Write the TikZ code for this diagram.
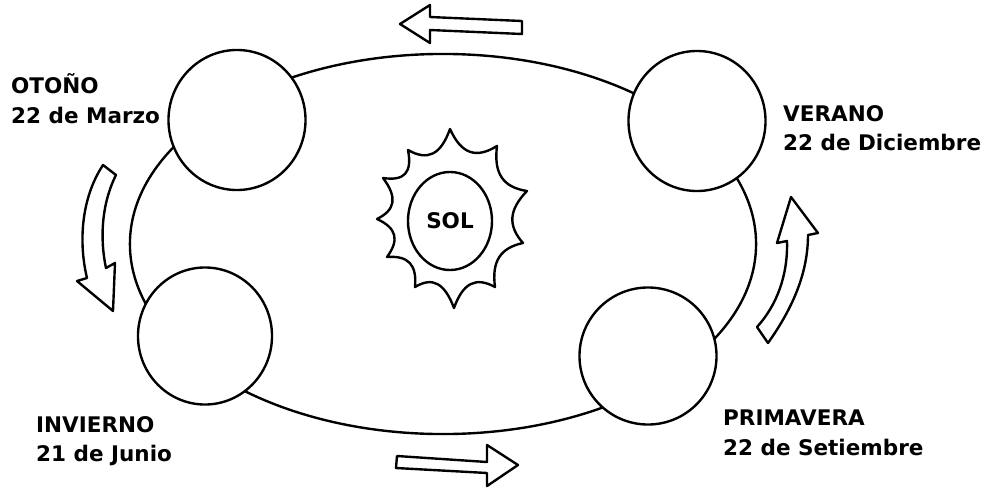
\documentclass[tikz,border=0pt]{standalone}
\usepackage{fontspec}
\setmainfont{DejaVu Sans}
\usetikzlibrary{shapes.geometric,calc}
\begin{document}
\begin{tikzpicture}[x=0.025cm,y=-0.025cm, line width=1.7pt, line join=round,
  lbl/.style={font=\bfseries\fontsize{15.3}{18}\selectfont, anchor=base west, inner sep=0pt},
  planet/.style={ellipse, draw, fill=white, inner sep=0pt},
  blockarrow/.style={draw, fill=white}]
\useasboundingbox[fill=white] (0,0) rectangle (982,488);
% orbit
\node[ellipse, draw, minimum width=15.65cm, minimum height=9.5cm, inner sep=0pt] (orbit) at (443,244) {};
% planets
\node[planet, minimum width=3.425cm, minimum height=3.5cm] (pOto) at (237,120) {};
\node[planet, minimum width=3.425cm, minimum height=3.5cm] (pVer) at (697,121) {};
\node[planet, minimum width=3.35cm, minimum height=3.425cm] (pInv) at (205,336) {};
\node[planet, minimum width=3.425cm, minimum height=3.425cm] (pPri) at (648,356) {};
% sun
\coordinate (sc) at (452,220);
\coordinate (s1) at (450,129);
\coordinate (s2) at (497,146);
\coordinate (s3) at (527,191);
\coordinate (s4) at (523,243);
\coordinate (s5) at (495,287);
\coordinate (s6) at (454,308);
\coordinate (s7) at (415,287);
\coordinate (s8) at (387,257);
\coordinate (s9) at (377,219);
\coordinate (s10) at (383,178);
\coordinate (s11) at (408,150);
\draw[fill=white] (s1) foreach \a/\b in {1/2,2/3,3/4,4/5,5/6,6/7,7/8,8/9,9/10,10/11,11/1} { .. controls ($(s\a)!0.3!(s\b)!0.23!(sc)$) and ($(s\a)!0.7!(s\b)!0.23!(sc)$) .. (s\b) } -- cycle;
\node[ellipse, draw, minimum width=2.1cm, minimum height=2.45cm, inner sep=0pt,
  font=\bfseries\fontsize{15.3}{18}\selectfont] (sol) at (450,221) {SOL};
% arrows
\draw[blockarrow] (400,24) -- (430,5) -- (430,17) -- (522,21) -- (522,34) -- (430,30) -- (430,43) -- cycle;
\draw[blockarrow] (397,456) -- (487,462) -- (487,445) -- (518,465) -- (487,486) -- (487,473) -- (396,468) -- cycle;
\draw[blockarrow] (103,165) -- (116,175) .. controls (101,205) and (100,240) .. (106,268) -- (115,263) -- (113,311) -- (77,281) -- (87,278) .. controls (79,245) and (80,200) .. (103,165) -- cycle;
\draw[blockarrow] (757,327) -- (768,343) .. controls (795,305) and (808,270) .. (808,235) -- (818,233) -- (791,197) -- (777,243) -- (787,241) .. controls (788,275) and (777,305) .. (757,327) -- cycle;
% labels
\node[lbl] (oto1) at (10,93) {OTOÑO};
\node[lbl] (oto2) at (10,123) {22 de Marzo};
\node[lbl] (ver1) at (782,121) {VERANO};
\node[lbl] (ver2) at (782,150) {22 de Diciembre};
\node[lbl] (inv1) at (35,432) {INVIERNO};
\node[lbl] (inv2) at (35,461) {21 de Junio};
\node[lbl] (pri1) at (722,425) {PRIMAVERA};
\node[lbl] (pri2) at (722,455) {22 de Setiembre};
\end{tikzpicture}
\end{document}
